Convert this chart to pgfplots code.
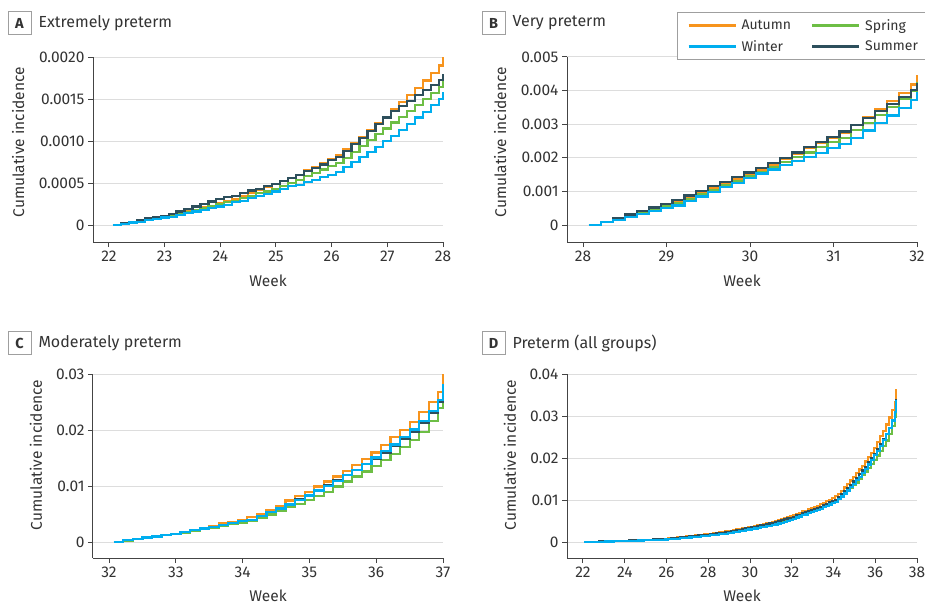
\documentclass[border=0pt]{standalone}
\usepackage{pgfplots}
\pgfplotsset{compat=1.18}
\usepackage{pgfplotstable}
\usepackage{fontspec}
\setmainfont{Fira Sans}
\definecolor{cAut}{HTML}{F7941D}
\definecolor{cWin}{HTML}{00AEEF}
\definecolor{cSpr}{HTML}{6DBE45}
\definecolor{cSum}{HTML}{2D4F5C}
\definecolor{txt}{HTML}{333333}
\definecolor{axc}{HTML}{444444}
\definecolor{grd}{HTML}{DDDDDD}

\pgfplotstableread{
x aut spr win sum
22.071 0 0 0 0
22.214 0.00002 0.00001 0.00001 0.00002
22.357 0.00003 0.00003 0.00003 0.00004
22.5 0.00005 0.00004 0.00004 0.00006
22.643 0.00006 0.00006 0.00006 0.00008
22.786 0.00008 0.00008 0.00007 0.00010
22.929 0.00009 0.00009 0.00009 0.00011
23.071 0.00011 0.00011 0.00010 0.00013
23.214 0.00013 0.00013 0.00012 0.00016
23.357 0.00016 0.00015 0.00014 0.00019
23.5 0.00018 0.00018 0.00016 0.00022
23.643 0.00021 0.00020 0.00018 0.00025
23.786 0.00023 0.00022 0.00020 0.00028
23.929 0.00026 0.00025 0.00022 0.00031
24.071 0.00028 0.00027 0.00024 0.00033
24.214 0.00031 0.00029 0.00027 0.00035
24.357 0.00035 0.00032 0.00029 0.00038
24.5 0.00038 0.00035 0.00032 0.00041
24.643 0.00042 0.00038 0.00035 0.00043
24.786 0.00045 0.00040 0.00037 0.00046
24.929 0.00049 0.00043 0.00040 0.00049
25.071 0.00052 0.00046 0.00043 0.00052
25.214 0.00056 0.00050 0.00046 0.00056
25.357 0.00060 0.00054 0.00048 0.00060
25.5 0.00065 0.00058 0.00051 0.00064
25.643 0.00069 0.00062 0.00054 0.00068
25.786 0.00074 0.00066 0.00057 0.00072
25.929 0.00078 0.00070 0.00060 0.00077
26.071 0.00083 0.00074 0.00063 0.00081
26.214 0.00090 0.00080 0.00069 0.00088
26.357 0.00097 0.00087 0.00075 0.00096
26.5 0.00105 0.00094 0.00081 0.00104
26.643 0.00113 0.00101 0.00087 0.00112
26.786 0.00121 0.00108 0.00093 0.00120
26.929 0.00129 0.00115 0.00100 0.00128
27.071 0.00138 0.00122 0.00106 0.00136
27.214 0.00146 0.00129 0.00113 0.00142
27.357 0.00155 0.00136 0.00120 0.00148
27.5 0.00163 0.00143 0.00128 0.00155
27.643 0.00172 0.00150 0.00135 0.00161
27.786 0.00181 0.00157 0.00143 0.00167
27.929 0.00190 0.00164 0.00150 0.00173
28.0 0.00200 0.00172 0.00158 0.00180
}\tA

\pgfplotstableread{
x aut spr win sum
28.071 0 0 0 0
28.214 0.00010 0.00009 0.00008 0.00010
28.357 0.00020 0.00018 0.00016 0.00021
28.5 0.00030 0.00027 0.00025 0.00031
28.643 0.00040 0.00037 0.00033 0.00042
28.786 0.00050 0.00046 0.00041 0.00052
28.929 0.00060 0.00056 0.00050 0.00063
29.071 0.00070 0.00065 0.00058 0.00074
29.214 0.00083 0.00078 0.00071 0.00088
29.357 0.00097 0.00091 0.00085 0.00101
29.5 0.00110 0.00104 0.00098 0.00115
29.643 0.00124 0.00118 0.00112 0.00129
29.786 0.00138 0.00131 0.00126 0.00143
29.929 0.00151 0.00145 0.00139 0.00156
30.071 0.00165 0.00158 0.00153 0.00170
30.214 0.00180 0.00172 0.00165 0.00185
30.357 0.00196 0.00187 0.00178 0.00200
30.5 0.00212 0.00202 0.00190 0.00216
30.643 0.00228 0.00216 0.00203 0.00232
30.786 0.00244 0.00231 0.00215 0.00247
30.929 0.00260 0.00246 0.00228 0.00263
31.071 0.00275 0.00260 0.00240 0.00278
31.214 0.00297 0.00282 0.00260 0.00298
31.357 0.00320 0.00304 0.00281 0.00318
31.5 0.00344 0.00327 0.00303 0.00339
31.643 0.00368 0.00351 0.00326 0.00360
31.786 0.00393 0.00375 0.00349 0.00381
31.929 0.00418 0.00400 0.00373 0.00401
32.0 0.00446 0.00427 0.00397 0.00422
}\tB

\pgfplotstableread{
x aut spr win sum
32.071 0 0 0 0
32.214 0.0003 0.0002 0.0003 0.0003
32.357 0.0005 0.0005 0.0005 0.0005
32.5 0.0008 0.0007 0.0008 0.0008
32.643 0.0010 0.0010 0.0010 0.0010
32.786 0.0013 0.0012 0.0013 0.0013
32.929 0.0015 0.0015 0.0015 0.0015
33.071 0.0018 0.0017 0.0018 0.0018
33.214 0.0021 0.0020 0.0021 0.0021
33.357 0.0025 0.0023 0.0024 0.0024
33.5 0.0029 0.0026 0.0027 0.0027
33.643 0.0033 0.0029 0.0030 0.0030
33.786 0.0036 0.0032 0.0034 0.0034
33.929 0.0040 0.0035 0.0037 0.0037
34.071 0.0044 0.0038 0.0040 0.0040
34.214 0.0050 0.0043 0.0046 0.0046
34.357 0.0057 0.0049 0.0053 0.0053
34.5 0.0065 0.0055 0.0060 0.0060
34.643 0.0074 0.0062 0.0067 0.0068
34.786 0.0082 0.0068 0.0075 0.0076
34.929 0.0090 0.0075 0.0083 0.0084
35.071 0.0099 0.0082 0.0092 0.0093
35.214 0.0108 0.0090 0.0100 0.0101
35.357 0.0117 0.0099 0.0109 0.0110
35.5 0.0127 0.0108 0.0119 0.0119
35.643 0.0137 0.0117 0.0129 0.0129
35.786 0.0148 0.0126 0.0140 0.0139
35.929 0.0160 0.0136 0.0151 0.0149
36.071 0.0173 0.0146 0.0162 0.0160
36.214 0.0187 0.0157 0.0174 0.0172
36.357 0.0200 0.0169 0.0187 0.0184
36.5 0.0215 0.0182 0.0201 0.0197
36.643 0.0232 0.0197 0.0216 0.0212
36.786 0.0250 0.0216 0.0234 0.0230
36.929 0.0268 0.0239 0.0254 0.0250
37.0 0.0300 0.0271 0.0283 0.0280
}\tC

\pgfplotstableread{
x aut spr win sum
22.071 0 0 0 0
22.214 0.00002 0.00001 0.00001 0.00002
22.357 0.00003 0.00003 0.00003 0.00004
22.5 0.00005 0.00004 0.00004 0.00006
22.643 0.00006 0.00006 0.00006 0.00008
22.786 0.00008 0.00008 0.00007 0.00010
22.929 0.00009 0.00009 0.00009 0.00011
23.071 0.00011 0.00011 0.00010 0.00013
23.214 0.00013 0.00013 0.00012 0.00016
23.357 0.00016 0.00015 0.00014 0.00019
23.5 0.00018 0.00018 0.00016 0.00022
23.643 0.00021 0.00020 0.00018 0.00025
23.786 0.00023 0.00022 0.00020 0.00028
23.929 0.00026 0.00025 0.00022 0.00031
24.071 0.00028 0.00027 0.00024 0.00033
24.214 0.00031 0.00029 0.00027 0.00035
24.357 0.00035 0.00032 0.00029 0.00038
24.5 0.00038 0.00035 0.00032 0.00041
24.643 0.00042 0.00038 0.00035 0.00043
24.786 0.00045 0.00040 0.00037 0.00046
24.929 0.00049 0.00043 0.00040 0.00049
25.071 0.00052 0.00046 0.00043 0.00052
25.214 0.00056 0.00050 0.00046 0.00056
25.357 0.00060 0.00054 0.00048 0.00060
25.5 0.00065 0.00058 0.00051 0.00064
25.643 0.00069 0.00062 0.00054 0.00068
25.786 0.00074 0.00066 0.00057 0.00072
25.929 0.00078 0.00070 0.00060 0.00077
26.071 0.00083 0.00074 0.00063 0.00081
26.214 0.00090 0.00080 0.00069 0.00088
26.357 0.00097 0.00087 0.00075 0.00096
26.5 0.00105 0.00094 0.00081 0.00104
26.643 0.00113 0.00101 0.00087 0.00112
26.786 0.00121 0.00108 0.00093 0.00120
26.929 0.00129 0.00115 0.00100 0.00128
27.071 0.00138 0.00122 0.00106 0.00136
27.214 0.00146 0.00129 0.00113 0.00142
27.357 0.00155 0.00136 0.00120 0.00148
27.5 0.00163 0.00143 0.00128 0.00155
27.643 0.00172 0.00150 0.00135 0.00161
27.786 0.00181 0.00157 0.00143 0.00167
27.929 0.00190 0.00164 0.00150 0.00173
28.071 0.00200 0.00172 0.00158 0.00180
28.214 0.00210 0.00181 0.00166 0.00190
28.357 0.00220 0.00190 0.00174 0.00201
28.5 0.00230 0.00199 0.00183 0.00211
28.643 0.00240 0.00209 0.00191 0.00222
28.786 0.00250 0.00218 0.00199 0.00232
28.929 0.00260 0.00228 0.00208 0.00243
29.071 0.00270 0.00237 0.00216 0.00254
29.214 0.00283 0.00250 0.00229 0.00268
29.357 0.00297 0.00263 0.00243 0.00281
29.5 0.00310 0.00276 0.00256 0.00295
29.643 0.00324 0.00290 0.00270 0.00309
29.786 0.00338 0.00303 0.00284 0.00323
29.929 0.00351 0.00317 0.00297 0.00336
30.071 0.00365 0.00330 0.00311 0.00350
30.214 0.00380 0.00344 0.00323 0.00365
30.357 0.00396 0.00359 0.00336 0.00380
30.5 0.00412 0.00374 0.00348 0.00396
30.643 0.00428 0.00388 0.00361 0.00412
30.786 0.00444 0.00403 0.00373 0.00427
30.929 0.00460 0.00418 0.00386 0.00443
31.071 0.00475 0.00432 0.00398 0.00458
31.214 0.00497 0.00454 0.00418 0.00478
31.357 0.00520 0.00476 0.00439 0.00498
31.5 0.00544 0.00499 0.00461 0.00519
31.643 0.00568 0.00523 0.00484 0.00540
31.786 0.00593 0.00547 0.00507 0.00561
31.929 0.00618 0.00572 0.00531 0.00581
32.071 0.00646 0.00599 0.00555 0.00602
32.214 0.00676 0.00619 0.00585 0.00632
32.357 0.00696 0.00649 0.00605 0.00652
32.5 0.00726 0.00669 0.00635 0.00682
32.643 0.00746 0.00699 0.00655 0.00702
32.786 0.00776 0.00719 0.00685 0.00732
32.929 0.00796 0.00749 0.00705 0.00752
33.071 0.00826 0.00769 0.00735 0.00782
33.214 0.00856 0.00799 0.00765 0.00812
33.357 0.00896 0.00829 0.00795 0.00842
33.5 0.00936 0.00859 0.00825 0.00872
33.643 0.00976 0.00889 0.00855 0.00902
33.786 0.01006 0.00919 0.00895 0.00942
33.929 0.01046 0.00949 0.00925 0.00972
34.071 0.01086 0.00979 0.00955 0.01002
34.214 0.01146 0.01029 0.01015 0.01062
34.357 0.01216 0.01089 0.01085 0.01132
34.5 0.01296 0.01149 0.01155 0.01202
34.643 0.01386 0.01219 0.01225 0.01282
34.786 0.01466 0.01279 0.01305 0.01362
34.929 0.01546 0.01349 0.01385 0.01442
35.071 0.01636 0.01419 0.01475 0.01532
35.214 0.01726 0.01499 0.01555 0.01612
35.357 0.01816 0.01589 0.01645 0.01702
35.5 0.01916 0.01679 0.01745 0.01792
35.643 0.02016 0.01769 0.01845 0.01892
35.786 0.02126 0.01859 0.01955 0.01992
35.929 0.02246 0.01959 0.02065 0.02092
36.071 0.02376 0.02059 0.02175 0.02202
36.214 0.02516 0.02169 0.02295 0.02322
36.357 0.02646 0.02289 0.02425 0.02442
36.5 0.02796 0.02419 0.02565 0.02572
36.643 0.02966 0.02569 0.02715 0.02722
36.786 0.03146 0.02759 0.02895 0.02902
36.929 0.03326 0.02989 0.03095 0.03102
37.0 0.03646 0.03309 0.03385 0.03402
}\tD

\newcommand{\fs}{\fontsize{15.5}{18}\selectfont}
\newcommand{\fl}{\fontsize{14}{16}\selectfont}

\pgfplotsset{
  panel/.style={
    scale only axis, width=350pt,
    axis lines=left,
    axis line style={-, axc, line width=1pt},
    tick align=outside, major tick length=5pt,
    tick style={axc, line width=1pt},
    minor tick num=0,
    ymajorgrids, grid style={grd, line width=1pt},
    ticklabel style={font=\fs, text=txt},
    /pgf/number format/assume math mode=true,
    clip=false,
    xlabel={Week}, ylabel={Cumulative incidence},
    label style={font=\fs, text=txt},
    scaled y ticks=false,
  },
  ser/.style={const plot, line width=2.2pt, mark=none},
}

\begin{document}
\begin{tikzpicture}
\useasboundingbox (0,0) rectangle (925pt,-604pt);

% ---------------- Panel A
\begin{axis}[panel, at={(93pt,-242pt)}, anchor=south west, height=185pt,
  xmin=21.713, xmax=28, ymin=-0.000202, ymax=0.002,
  xtick={22,23,...,28},
  ytick={0,0.0005,0.001,0.0015,0.002},
  yticklabels={0,0.0005,0.0010,0.0015,0.0020},
  xlabel style={at={(axis description cs:0.5,-0.211)}, anchor=center},
  ylabel style={at={(axis description cs:-0.214,0.54)}, anchor=center},
]
\addplot[ser, cAut] table[x=x, y=aut]{\tA};
\addplot[ser, cSpr] table[x=x, y=spr]{\tA};
\addplot[ser, cSum] table[x=x, y=sum]{\tA};
\addplot[ser, cWin] table[x=x, y=win]{\tA};
\end{axis}

% ---------------- Panel B
\begin{axis}[panel, at={(567pt,-242pt)}, anchor=south west, height=185pt,
  xmin=27.808, xmax=32, ymin=-0.000506, ymax=0.005,
  xtick={28,29,...,32},
  ytick={0,0.001,...,0.005},
  yticklabels={0,0.001,0.002,0.003,0.004,0.005},
  xlabel style={at={(axis description cs:0.5,-0.211)}, anchor=center},
  ylabel style={at={(axis description cs:-0.191,0.54)}, anchor=center},
  legend columns=2, legend cell align=left,
  legend image code/.code={\draw[#1, line width=2.2pt] (0pt,0pt) -- (47pt,0pt);
      \path[draw=none, fill=none] (0pt,-10pt) rectangle (51pt,10pt);},
  legend style={at={(axis description cs:0.3143,1.2432)}, anchor=north west,
    draw=gray!75, line width=0.8pt, font=\fl, text=txt,
    inner xsep=10pt, inner ysep=3pt, row sep=1pt,
    /tikz/every even column/.append style={column sep=18pt}},
]
\addlegendimage{cAut}\addlegendentry{Autumn}
\addlegendimage{cSpr}\addlegendentry{Spring}
\addlegendimage{cWin}\addlegendentry{Winter}
\addlegendimage{cSum}\addlegendentry{Summer}
\addplot[ser, cAut, forget plot] table[x=x, y=aut]{\tB};
\addplot[ser, cSpr, forget plot] table[x=x, y=spr]{\tB};
\addplot[ser, cSum, forget plot] table[x=x, y=sum]{\tB};
\addplot[ser, cWin, forget plot] table[x=x, y=win]{\tB};
\end{axis}

% ---------------- Panel C
\begin{axis}[panel, at={(93pt,-558pt)}, anchor=south west, height=184pt,
  xmin=31.76, xmax=37, ymin=-0.002857, ymax=0.03,
  xtick={32,33,...,37},
  ytick={0,0.01,0.02,0.03},
  yticklabels={0,0.01,0.02,0.03},
  xlabel style={at={(axis description cs:0.5,-0.205)}, anchor=center},
  ylabel style={at={(axis description cs:-0.163,0.56)}, anchor=center},
]
\addplot[ser, cAut] table[x=x, y=aut]{\tC};
\addplot[ser, cSpr] table[x=x, y=spr]{\tC};
\addplot[ser, cSum] table[x=x, y=sum]{\tC};
\addplot[ser, cWin] table[x=x, y=win]{\tC};
\end{axis}

% ---------------- Panel D
\begin{axis}[panel, at={(567pt,-558pt)}, anchor=south west, height=184pt,
  xmin=21.234, xmax=38, ymin=-0.00381, ymax=0.04,
  xtick={22,24,...,38},
  ytick={0,0.01,0.02,0.03,0.04},
  yticklabels={0,0.01,0.02,0.03,0.04},
  xlabel style={at={(axis description cs:0.5,-0.205)}, anchor=center},
  ylabel style={at={(axis description cs:-0.163,0.56)}, anchor=center},
]
\addplot[ser, cAut] table[x=x, y=aut]{\tD};
\addplot[ser, cSpr] table[x=x, y=spr]{\tD};
\addplot[ser, cSum] table[x=x, y=sum]{\tD};
\addplot[ser, cWin] table[x=x, y=win]{\tD};
\end{axis}

% ---------------- Panel titles
\tikzset{pbox/.style={draw=gray!75, line width=0.8pt, minimum width=23pt, minimum height=23pt, inner sep=0pt, font=\bfseries\fontsize{14.5}{16}\selectfont, text=txt},
         ptit/.style={anchor=west, font=\fontsize{16}{19}\selectfont, text=txt}}
\node[pbox] at (19.5pt,-23pt) {A};
\node[ptit] at (35pt,-23pt) {Extremely preterm};
\node[pbox] at (493.5pt,-23pt) {B};
\node[ptit] at (509pt,-23pt) {Very preterm};
\node[pbox] at (19.5pt,-343pt) {C};
\node[ptit] at (35pt,-343pt) {Moderately preterm};
\node[pbox] at (493.5pt,-343pt) {D};
\node[ptit] at (509pt,-343pt) {Preterm (all groups)};
\end{tikzpicture}
\end{document}
